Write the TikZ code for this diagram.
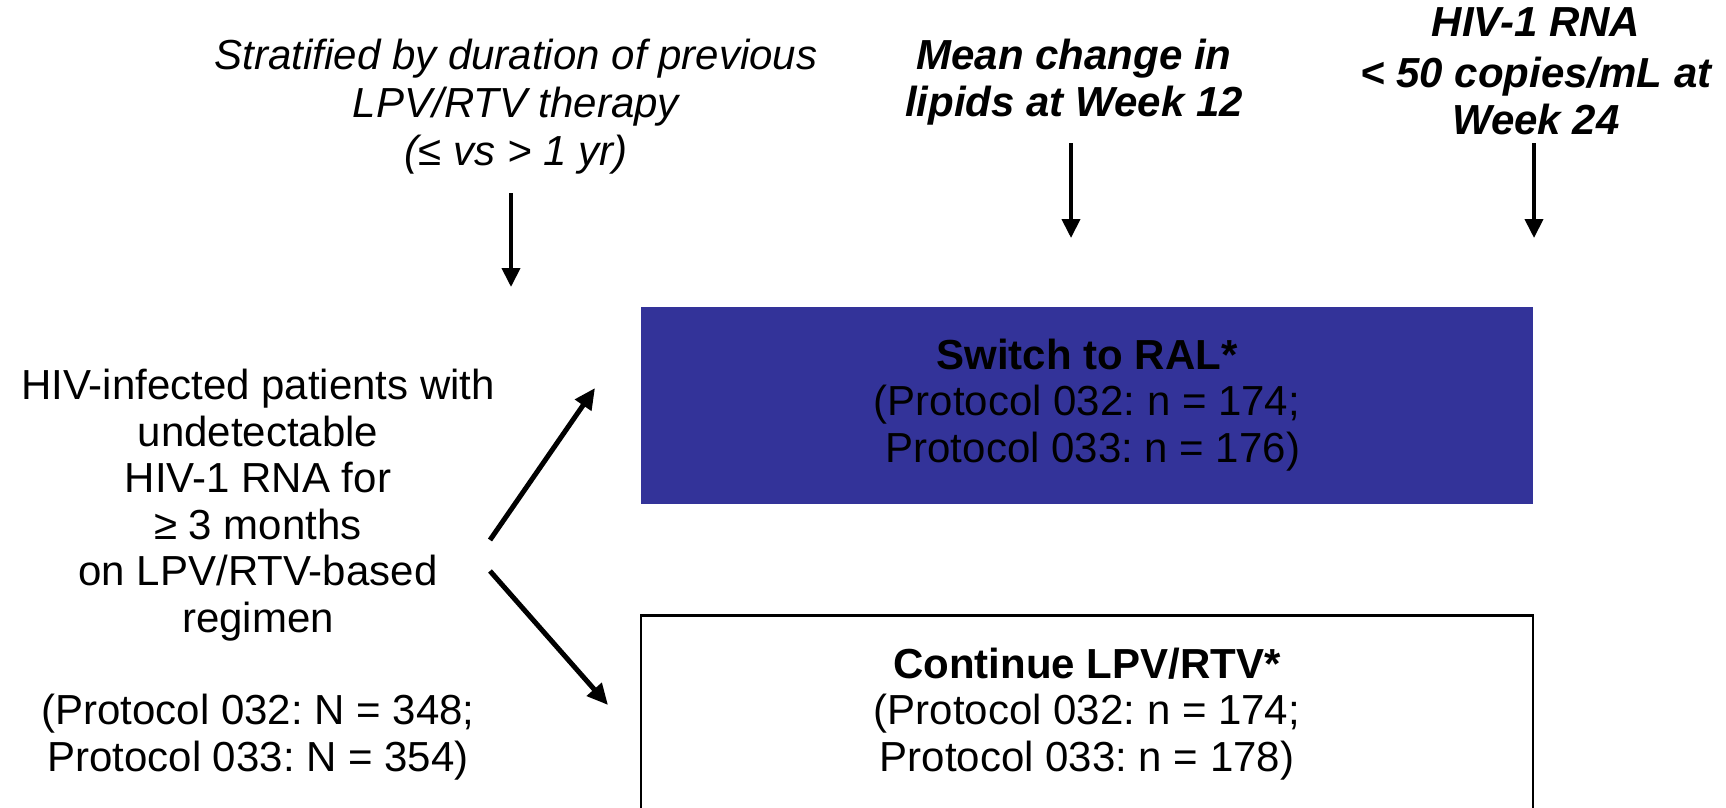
\documentclass[tikz,border=0pt]{standalone}
\usepackage{fontspec}
\setmainfont{Liberation Sans}
\usetikzlibrary{arrows.meta}
\definecolor{ralblue}{RGB}{51,51,153}
\frenchspacing
\begin{document}
\begin{tikzpicture}[x=1pt,y=-1pt,
  txt/.style={font=\fontsize{42}{46.5}\selectfont, align=center, inner sep=0pt},
  headit/.style={txt, font=\fontsize{42}{48}\selectfont\itshape},
  headbf/.style={txt, font=\fontsize{42}{46.5}\selectfont\bfseries\itshape},
  armbox/.style={txt, minimum width=892pt, minimum height=197pt},
  varrow/.style={line width=4pt, -{Triangle[length=19pt,width=18pt]}},
  darrow/.style={line width=5pt, -{Triangle[length=21pt,width=19pt]}}]
\useasboundingbox (0,0) rectangle (1726,808);

% column headings
\node[headit, anchor=north] (strat) at (516,39)
  {Stratified by duration of previous\\LPV/RTV therapy\\(≤ vs > 1 yr)};
\node[headbf, anchor=north] (lipid) at (1074,39)
  {Mean change in\\lipids at Week 12};
\node[headbf, anchor=north] (rna) at (1536,7)
  {HIV-1 RNA\\[5pt]< 50 copies/mL at\\Week 24};

% population
\node[txt, anchor=north] (patients) at (258,369)
  {HIV-infected patients with\\undetectable\\HIV-1 RNA for\\≥ 3 months\\on LPV/RTV-based\\regimen\\[46pt]
   (Protocol 032: N = 348;\\Protocol 033: N = 354)};

% treatment arms
\node[armbox, fill=ralblue] (ral) at (1087,405)
  {\textbf{Switch to RAL*}\\(Protocol 032: n = 174;\\\ Protocol 033: n = 176)};
\node[armbox, draw, line width=2.5pt, fill=white] (lpv) at (1087,714)
  {\textbf{Continue LPV/RTV*}\\(Protocol 032: n = 174;\\Protocol 033: n = 178)};

% arrow end points
\coordinate (stratA) at (511,193);
\coordinate (stratB) at (511,287);
\coordinate (lipidA) at (1071,143);
\coordinate (lipidB) at (1071,238);
\coordinate (rnaA) at (1534,143);
\coordinate (rnaB) at (1534,238);
\coordinate (upA) at (490,540);
\coordinate (upB) at (595,388);
\coordinate (dnA) at (490,571);
\coordinate (dnB) at (608,705);

\draw[varrow] (stratA) -- (stratB);
\draw[varrow] (lipidA) -- (lipidB);
\draw[varrow] (rnaA) -- (rnaB);
\draw[darrow] (upA) -- (upB);
\draw[darrow] (dnA) -- (dnB);
\end{tikzpicture}
\end{document}
